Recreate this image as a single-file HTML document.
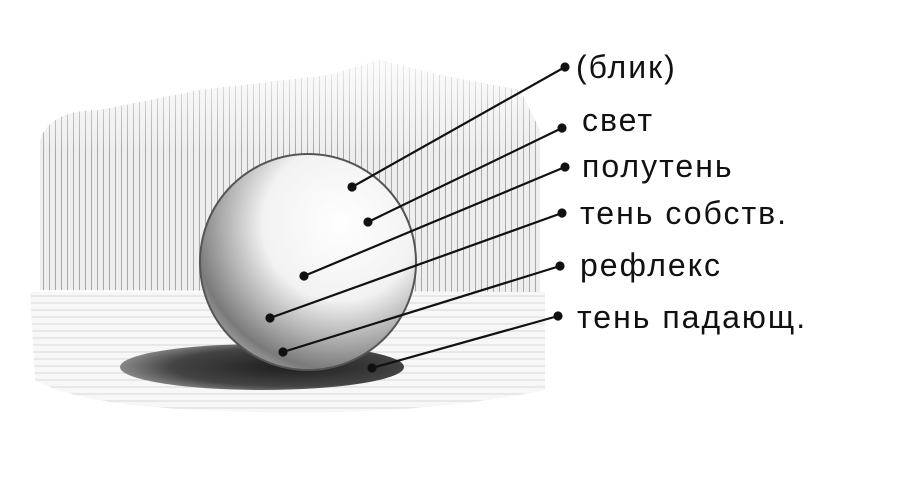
<!DOCTYPE html>
<html><head><meta charset="utf-8"><style>
html,body{margin:0;padding:0;background:#fff;}
svg{display:block}
text{font-family:"Liberation Sans","DejaVu Sans",sans-serif;font-size:32px;fill:#111;letter-spacing:2px}
</style></head><body>
<svg width="907" height="479" viewBox="0 0 907 479" xmlns="http://www.w3.org/2000/svg">
<defs>
<pattern id="vh" width="6" height="20" patternUnits="userSpaceOnUse">
<rect width="6" height="20" fill="#eeeeee"/>
<line x1="1.5" y1="0" x2="1.5" y2="20" stroke="#a8a8a8" stroke-width="1"/>
</pattern>
<pattern id="hh" width="20" height="7" patternUnits="userSpaceOnUse">
<rect width="20" height="7" fill="#f7f7f7"/>
<line x1="0" y1="2" x2="20" y2="2" stroke="#dadada" stroke-width="1"/>
</pattern>
<linearGradient id="vfade" x1="0" y1="0" x2="0" y2="1">
<stop offset="0" stop-color="#fff" stop-opacity="0.8"/>
<stop offset="0.4" stop-color="#fff" stop-opacity="0"/>
</linearGradient>
<radialGradient id="sph" cx="0.65" cy="0.32" r="0.8">
<stop offset="0" stop-color="#fff"/>
<stop offset="0.45" stop-color="#f2f2f2"/>
<stop offset="0.7" stop-color="#a8a8a8"/>
<stop offset="0.85" stop-color="#7a7a7a"/>
<stop offset="1" stop-color="#bbb"/>
</radialGradient>
<radialGradient id="shd" cx="0.6" cy="0.5" r="0.6">
<stop offset="0" stop-color="#1e1e1e"/>
<stop offset="0.7" stop-color="#444"/>
<stop offset="1" stop-color="#888"/>
</radialGradient>
</defs>
<rect width="907" height="479" fill="#fff"/>
<path d="M40 290 L40 140 Q50 110 100 110 L200 90 L330 75 L380 60 L440 75 L520 90 L540 130 L540 292 Z" fill="url(#vh)"/>
<path d="M40 290 L40 140 Q50 110 100 110 L200 90 L330 75 L380 60 L440 75 L520 90 L540 130 L540 292 Z" fill="url(#vfade)"/>
<path d="M30 292 L545 292 L545 390 Q400 420 200 410 Q80 405 35 380 Z" fill="url(#hh)"/>
<ellipse cx="262" cy="367" rx="142" ry="23" fill="url(#shd)"/>
<circle cx="308" cy="262" r="108" fill="url(#sph)" stroke="#555" stroke-width="2"/>
<g stroke="#111" stroke-width="2.2" fill="#111">
<line x1="352" y1="187" x2="565" y2="67"/><circle cx="352" cy="187" r="3.5"/><circle cx="565" cy="67" r="3.5"/>
<line x1="368" y1="222" x2="562" y2="128"/><circle cx="368" cy="222" r="3.5"/><circle cx="562" cy="128" r="3.5"/>
<line x1="304" y1="276" x2="565" y2="167"/><circle cx="304" cy="276" r="3.5"/><circle cx="565" cy="167" r="3.5"/>
<line x1="270" y1="318" x2="562" y2="213"/><circle cx="270" cy="318" r="3.5"/><circle cx="562" cy="213" r="3.5"/>
<line x1="283" y1="352" x2="560" y2="266"/><circle cx="283" cy="352" r="3.5"/><circle cx="560" cy="266" r="3.5"/>
<line x1="372" y1="368" x2="558" y2="316"/><circle cx="372" cy="368" r="3.5"/><circle cx="558" cy="316" r="3.5"/>
</g>
<text x="576" y="78">(блик)</text>
<text x="582" y="131">свет</text>
<text x="582" y="177">полутень</text>
<text x="580" y="224">тень собств.</text>
<text x="580" y="276">рефлекс</text>
<text x="577" y="328">тень падающ.</text>
</svg>
</body></html>
